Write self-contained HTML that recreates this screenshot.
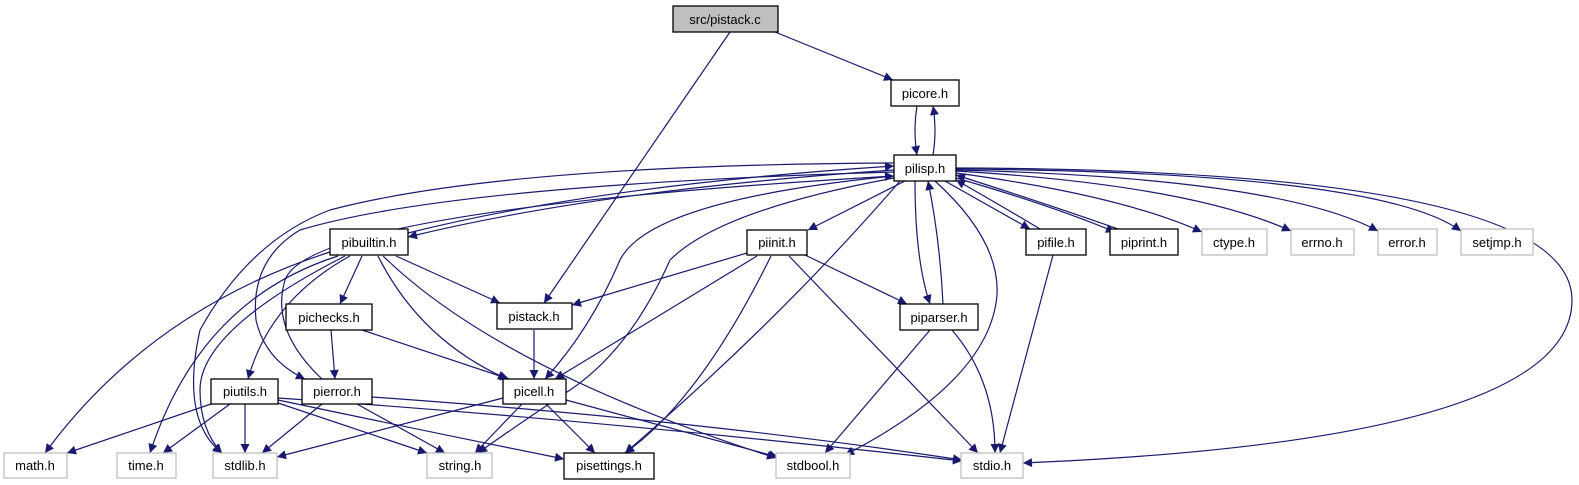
<!DOCTYPE html>
<html><head><meta charset="utf-8"><style>
body{margin:0;background:#fff}
svg{display:block}
text{font-family:"Liberation Sans",sans-serif;font-size:13px;text-anchor:middle}
.e{fill:none;stroke:#191970;stroke-width:1.2;marker-end:url(#a)}
.n{fill:#fff;stroke:#000;stroke-width:1.3}
.g{fill:#fff;stroke:#bfbfbf;stroke-width:1.3}
</style></head><body>
<svg width="1579" height="485" viewBox="0 0 1579 485">
<defs><marker id="a" viewBox="0 0 10 10" refX="10" refY="5" markerWidth="11" markerHeight="9" markerUnits="userSpaceOnUse" orient="auto"><path d="M0,0L10,5L0,10z" fill="#191970"/></marker></defs>
<g>
<path class="e" d="M775,32 L893,80"/>
<path class="e" d="M730,32 L544,303"/>
<path class="e" d="M917,106 Q913,130 917,155"/>
<path class="e" d="M933,155 Q937,130 933,106"/>
<path class="e" d="M894,170 Q600,190 408,237"/>
<path class="e" d="M408,233 Q600,185 894,166"/>
<path class="e" d="M894,163 Q500,165 330,210 Q250,240 200,330 Q180,420 222,453"/>
<path class="e" d="M894,172 Q450,185 300,230 Q250,260 256,320 Q265,360 305,379"/>
<path class="e" d="M322,379 Q270,330 285,280 Q310,210 894,176"/>
<path class="e" d="M894,176 Q650,200 620,260 Q590,330 545,379"/>
<path class="e" d="M894,178 Q720,210 670,260 Q630,350 570,390 Q510,430 478,453"/>
<path class="e" d="M900,181 Q780,320 625,453"/>
<path class="e" d="M905,181 L808,230"/>
<path class="e" d="M915,181 Q915,260 930,304"/>
<path class="e" d="M943,304 Q940,240 928,181"/>
<path class="e" d="M935,181 Q1000,240 997,295 Q990,380 845,455"/>
<path class="e" d="M945,181 L1030,229"/>
<path class="e" d="M1040,229 Q1000,205 956,180"/>
<path class="e" d="M956,178 Q1050,205 1115,232"/>
<path class="e" d="M1118,229 Q1050,205 956,175"/>
<path class="e" d="M956,173 Q1120,195 1202,232"/>
<path class="e" d="M956,171 Q1190,185 1291,231"/>
<path class="e" d="M956,170 Q1280,178 1378,231"/>
<path class="e" d="M956,169 Q1380,172 1461,231"/>
<path class="e" d="M956,168 Q1572,170 1572,300 Q1572,440 1023,463"/>
<path class="e" d="M330,252 Q150,310 45,453"/>
<path class="e" d="M338,256 Q200,300 150,453"/>
<path class="e" d="M345,256 Q200,330 200,390 Q200,430 222,453"/>
<path class="e" d="M350,256 Q270,300 248,379"/>
<path class="e" d="M362,256 L340,304"/>
<path class="e" d="M396,256 L500,303"/>
<path class="e" d="M378,256 Q420,340 507,379"/>
<path class="e" d="M383,256 Q500,370 776,458"/>
<path class="e" d="M747,253 L572,305"/>
<path class="e" d="M757,256 L555,379"/>
<path class="e" d="M771,256 Q700,400 625,453"/>
<path class="e" d="M789,256 L978,453"/>
<path class="e" d="M805,255 L907,304"/>
<path class="e" d="M331,330 L335,379"/>
<path class="e" d="M362,330 L509,379"/>
<path class="e" d="M534,330 L534,379"/>
<path class="e" d="M930,330 L825,453"/>
<path class="e" d="M952,330 Q995,380 995,453"/>
<path class="e" d="M1053,255 L1000,453"/>
<path class="e" d="M211,404 L67,453"/>
<path class="e" d="M230,404 L163,453"/>
<path class="e" d="M245,404 L245,453"/>
<path class="e" d="M278,403 L427,453"/>
<path class="e" d="M278,400 Q420,430 564,459"/>
<path class="e" d="M278,398 Q600,420 962,461"/>
<path class="e" d="M322,404 L262,453"/>
<path class="e" d="M357,404 L445,453"/>
<path class="e" d="M372,397 Q700,420 962,460"/>
<path class="e" d="M503,398 L277,457"/>
<path class="e" d="M522,404 L475,453"/>
<path class="e" d="M546,404 L595,453"/>
<path class="e" d="M566,400 L778,457"/>
</g>
<rect x="673" y="6" width="105" height="26" fill="#bfbfbf" stroke="#000" stroke-width="1.3"/><text x="725" y="24">src/pistack.c</text>
<rect class="n" x="891" y="80" width="68" height="26"/><text x="925" y="98">picore.h</text>
<rect class="n" x="894" y="155" width="62" height="26"/><text x="925" y="173">pilisp.h</text>
<rect class="n" x="330" y="229" width="78" height="26"/><text x="369" y="247">pibuiltin.h</text>
<rect class="n" x="747" y="230" width="60" height="25"/><text x="777" y="247">piinit.h</text>
<rect class="n" x="1026" y="229" width="60" height="26"/><text x="1056" y="247">pifile.h</text>
<rect class="n" x="1110" y="229" width="68" height="26"/><text x="1144" y="247">piprint.h</text>
<rect class="g" x="1202" y="229" width="65" height="26"/><text x="1234" y="247">ctype.h</text>
<rect class="g" x="1291" y="229" width="63" height="26"/><text x="1322" y="247">errno.h</text>
<rect class="g" x="1378" y="229" width="59" height="26"/><text x="1407" y="247">error.h</text>
<rect class="g" x="1461" y="229" width="72" height="26"/><text x="1497" y="247">setjmp.h</text>
<rect class="n" x="286" y="304" width="86" height="26"/><text x="329" y="322">pichecks.h</text>
<rect class="n" x="497" y="303" width="75" height="26"/><text x="534" y="321">pistack.h</text>
<rect class="n" x="900" y="304" width="78" height="26"/><text x="939" y="322">piparser.h</text>
<rect class="n" x="211" y="379" width="67" height="25"/><text x="245" y="396">piutils.h</text>
<rect class="n" x="302" y="379" width="70" height="25"/><text x="337" y="396">pierror.h</text>
<rect class="n" x="503" y="379" width="63" height="25"/><text x="534" y="396">picell.h</text>
<rect class="g" x="4" y="453" width="63" height="25"/><text x="35" y="470">math.h</text>
<rect class="g" x="117" y="453" width="59" height="25"/><text x="146" y="470">time.h</text>
<rect class="g" x="213" y="453" width="64" height="25"/><text x="245" y="470">stdlib.h</text>
<rect class="g" x="427" y="453" width="65" height="25"/><text x="460" y="470">string.h</text>
<rect class="n" x="564" y="453" width="90" height="26"/><text x="609" y="470">pisettings.h</text>
<rect class="g" x="776" y="453" width="74" height="25"/><text x="813" y="470">stdbool.h</text>
<rect class="g" x="961" y="453" width="62" height="25"/><text x="992" y="470">stdio.h</text>
</svg>
</body></html>
